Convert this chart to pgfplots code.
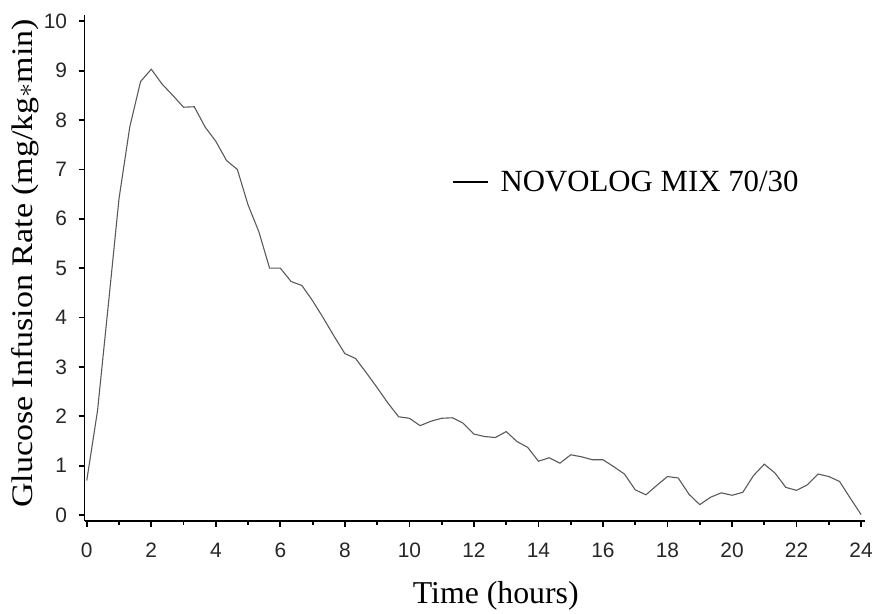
\documentclass[border=0pt]{standalone}
\usepackage{fontspec}
\setmainfont{Liberation Serif}
\setsansfont{Liberation Sans}
\usepackage{graphicx}
\usepackage{pgfplots}
\pgfplotsset{compat=1.18}
\usepackage{pgfplotstable}

% glucose infusion rate, one reading every 20 minutes
\pgfplotstableread{
t      gir
0      0.70
0.333  2.11
0.667  4.25
1.000  6.41
1.333  7.86
1.667  8.78
2.000  9.03
2.333  8.73
2.667  8.50
3.000  8.26
3.333  8.27
3.667  7.86
4.000  7.57
4.333  7.18
4.667  7.00
5.000  6.28
5.333  5.74
5.667  5.00
6.000  5.00
6.333  4.73
6.667  4.65
7.000  4.34
7.333  3.99
7.667  3.62
8.000  3.27
8.333  3.17
8.667  2.88
9.000  2.58
9.333  2.27
9.667  1.99
10.000 1.96
10.333 1.81
10.667 1.90
11.000 1.96
11.333 1.97
11.667 1.86
12.000 1.64
12.333 1.59
12.667 1.57
13.000 1.69
13.333 1.49
13.667 1.37
14.000 1.09
14.333 1.16
14.667 1.05
15.000 1.22
15.333 1.18
15.667 1.12
16.000 1.12
16.333 0.98
16.667 0.83
17.000 0.51
17.333 0.41
17.667 0.60
18.000 0.78
18.333 0.75
18.667 0.42
19.000 0.21
19.333 0.36
19.667 0.45
20.000 0.40
20.333 0.46
20.667 0.80
21.000 1.03
21.333 0.85
21.667 0.56
22.000 0.50
22.333 0.61
22.667 0.83
23.000 0.78
23.333 0.68
23.667 0.34
24.000 0.01
}\novolog

\begin{document}
\begin{tikzpicture}
\begin{axis}[
    scale only axis,
    width=785pt, height=509pt,
    xmin=-0.07, xmax=24.12,
    ymin=-0.12, ymax=10.13,
    axis x line=bottom, axis y line=left,
    axis line style={-, line width=1.8pt, black},
    xtick={0,2,...,24}, ytick={0,1,...,10},
    minor x tick num=1,
    tick align=outside,
    major tick length=6pt, minor tick length=4pt,
    every tick/.style={line width=1.8pt, black},
    major tick style={line width=1.8pt, black},
    minor tick style={line width=1.8pt, black},
    /pgf/number format/assume math mode=true,
    ticklabel style={font=\sffamily\fontsize{21}{25}\selectfont, black!85},
    yticklabel style={xshift=-8pt},
    xticklabel style={yshift=-13pt},
    xlabel={Time (hours)},
    xlabel style={at={(axis description cs:0.527,-0.163)}, anchor=base,
        font=\fontsize{32}{38}\selectfont},
    ylabel={\scalebox{1.14}[1]{Glucose Infusion Rate (mg/kg$\ast$min)}},
    ylabel style={at={(axis description cs:-0.0764,0.509)}, anchor=center,
        font=\fontsize{30}{36}\selectfont},
    legend style={at={(axis description cs:0.4713,0.670)}, anchor=west,
        draw=none, fill=none, inner sep=0pt,
        nodes={inner sep=0pt},
        /tikz/every odd column/.append style={column sep=12pt},
        font=\fontsize{31}{37}\selectfont},
    legend image code/.code={\draw[black, line width=1.4pt] (0pt,0pt) -- (35pt,0pt);},
]
\addplot[black!65, line width=1.1pt, mark=none] table[x=t, y=gir] {\novolog};
\legend{NOVOLOG MIX 70/30}
\end{axis}
% white margin as in the reference
\path ([xshift=-85pt,yshift=15pt]current axis.north west)
      ([xshift=8pt,yshift=-86pt]current axis.south east);
\end{tikzpicture}
\end{document}
